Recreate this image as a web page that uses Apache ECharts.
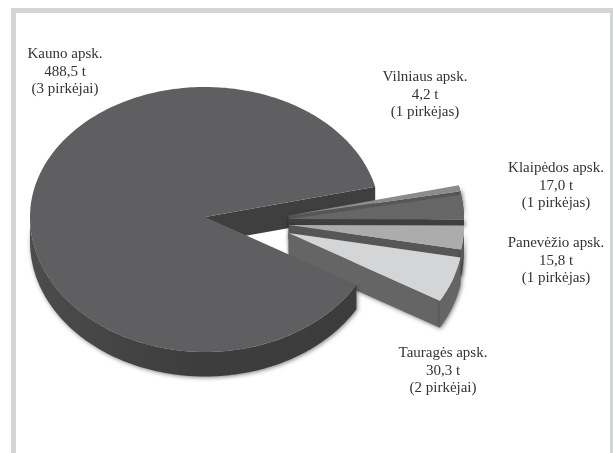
<!DOCTYPE html>
<html><head><meta charset="utf-8">
<style>html,body{margin:0;padding:0;background:#fff}#c{width:613px;height:453px}canvas{filter:blur(0.35px)}</style>
<script src="https://cdn.jsdelivr.net/npm/echarts@6/dist/echarts.min.js"></script>
</head><body><div id="c"></div>
<script>
// data
const regions = ['Kauno apsk.','Vilniaus apsk.','Klaipėdos apsk.','Panevėžio apsk.','Tauragės apsk.'];
const tonnes = [488.5,4.2,17.0,15.8,30.3];
const buyers = ['(3 pirkėjai)','(1 pirkėjas)','(1 pirkėjas)','(1 pirkėjas)','(2 pirkėjai)'];

// layout + style
const RX=175, RY_UP=130, RY_DOWN=135, START=13.5;
const apexes=[[205,217],[288.5,215.5],[289,219],[289,225],[288.5,233]];
const depth=[24.5,24,6.5,27,27];
const topColor=['#5f5f61','#8b8b8b','#666668','#acacac','#d4d5d6'];
const wallColor=['#3f3f40','#565656','#3f3f40','#565657','#656566'];
const labelPos=[[65,72],[425,95],[556,186],[556,261],[443,371]];
const total=tonnes.reduce((a,b)=>a+b,0);

function arc(i,from,to,dy){
  const [cx,cy]=apexes[i],pts=[],n=Math.max(4,Math.ceil(Math.abs(to-from)));
  for(let k=0;k<=n;k++){
    const a=(from+(to-from)*k/n)*Math.PI/180, s=Math.sin(a);
    pts.push([cx+RX*Math.cos(a), cy-s*(s>0?RY_UP:RY_DOWN)+(dy||0)]);
  }
  return pts;
}
function poly(points,fill,z2,extra){
  return {type:'polygon',z2,shape:{points},style:Object.assign({fill},extra||{})};
}
const shadow={shadowBlur:4,shadowColor:'rgba(0,0,0,0.5)',shadowOffsetX:1,shadowOffsetY:1};

function renderItem(params,api){
  const i=params.dataIndex, v=api.value(0);
  // slices run clockwise from START: Vilnius, Klaipeda, Panevezys, Taurage, then Kaunas
  let before=0;
  for(let k=1;k<i;k++) before+=tonnes[k];
  const sweep=v/total*360;
  const from = i===0 ? START-(total-tonnes[0])/total*360 : START-before/total*360;
  const to   = from-sweep;
  const [ax,ay]=apexes[i], h=depth[i], children=[];
  const top=arc(i,from,to,0);
  if(i===0){
    const tip=arc(0,START,START,0)[0], wh=h+1.5;
    // inner cut wall seen through the gap, behind exploded slices
    children.push(poly([[ax,ay],tip,[tip[0],tip[1]+wh],[ax,ay+wh]],wallColor[0],1));
    // outer rim from the lower cut edge round to the left extreme
    const rim=arc(0,from,-180,0), rimLow=arc(0,from,-180,h).reverse();
    children.push({type:'polygon',z2:20,shape:{points:rim.concat(rimLow)},style:Object.assign({
      fill:{type:'linear',x:0,y:0,x2:1,y2:0,colorStops:[{offset:0,color:'#4c4c4d'},{offset:.5,color:'#3d3d3e'},{offset:1,color:'#3c3c3d'}]}
    },shadow)});
    children.push(poly([[ax,ay]].concat(top),topColor[0],21));
  }else{
    const z=2+i*2;
    const low=top[top.length-1];
    const wall=poly([[ax,ay],low,[low[0],low[1]+h],[ax,ay+h]],wallColor[i],z,shadow);
    const rim=arc(i,from,to,0).concat(arc(i,from,to,h).reverse());
    children.push(wall,poly(rim,wallColor[i],z,shadow));
    children.push(poly([[ax,ay]].concat(top),topColor[i],z+1));
  }
  const txt=regions[i]+'\n'+v.toFixed(1).replace('.',',')+' t\n'+buyers[i];
  children.push({type:'text',z2:40,style:{text:txt,x:labelPos[i][0],y:labelPos[i][1],align:'center',verticalAlign:'middle',
    fill:'#333333',font:'15px "Liberation Serif"',lineHeight:17.5}});
  return {type:'group',children};
}

const chart=echarts.init(document.getElementById('c'));
chart.setOption({
  animation:false,
  backgroundColor:'#fff',
  graphic:[{type:'rect',z:-1,shape:{x:13.5,y:10.5,width:599,height:460},style:{fill:'#fff',stroke:'#d3d5d5',lineWidth:5}}],
  series:[{type:'custom',coordinateSystem:'none',renderItem,data:tonnes.map((t,i)=>({name:regions[i],value:[t]}))}]
});
</script></body></html>
